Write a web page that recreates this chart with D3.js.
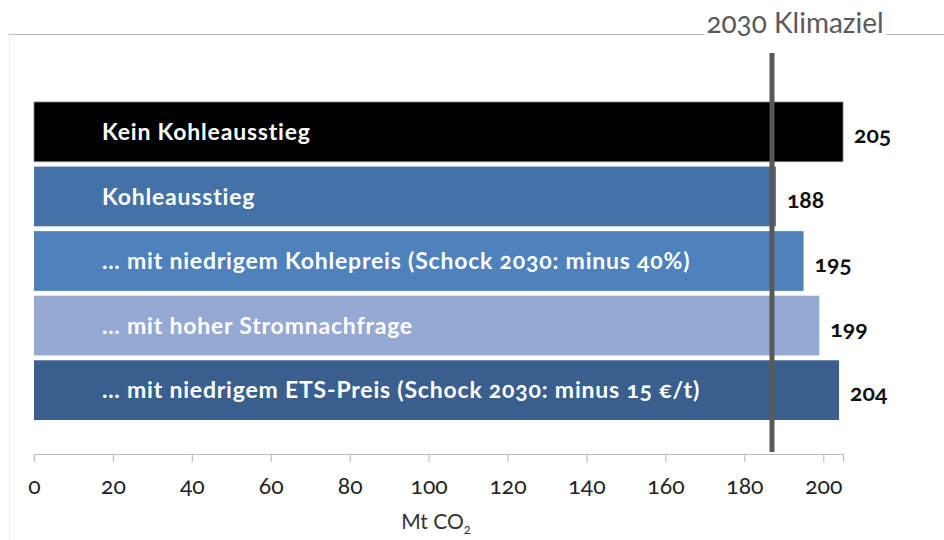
<!DOCTYPE html>
<html>
<head>
<meta charset="utf-8">
<script src="https://cdn.jsdelivr.net/npm/d3@7"></script>
<style>
  html, body { margin: 0; padding: 0; background: #fff; }
  svg { display: block; font-family: Lato, "Open Sans", sans-serif; font-variant-numeric: oldstyle-nums; }
</style>
</head>
<body>
<svg id="chart" width="944" height="540"></svg>
<script>
// ---- data ----
const categories = [
  "Kein Kohleausstieg",
  "Kohleausstieg",
  "… mit niedrigem Kohlepreis (Schock 2030: minus 40%)",
  "… mit hoher Stromnachfrage",
  "… mit niedrigem ETS-Preis (Schock 2030: minus 15 €/t)"
];
const values = [205, 188, 195, 199, 204];
const targetValue = 187;
const targetLabel = "2030 Klimaziel";
const xTicks = [0, 20, 40, 60, 80, 100, 120, 140, 160, 180, 200];
const axisTitle = "Mt CO";
const axisTitleSub = "2";

// ---- style ----
const barColors = ["#000000", "#4472a6", "#4f81bd", "#95a9d2", "#3a5f8e"];

const svg = d3.select("#chart");

const x = d3.scaleLinear().domain([0, 205]).range([34, 843]);
const y = d3.scaleBand().domain(categories).range([102, 420]).paddingInner(0.075).paddingOuter(0);

// frame lines
svg.append("line").attr("x1", 9).attr("x2", 944).attr("y1", 34.5).attr("y2", 34.5)
  .attr("stroke", "#bdbdbd").attr("stroke-width", 1.2);
svg.append("line").attr("x1", 9.5).attr("x2", 9.5).attr("y1", 35).attr("y2", 540)
  .attr("stroke", "#f0f0f0").attr("stroke-width", 1);

// bars
const rows = categories.map((c, i) => ({ c, v: values[i], i }));
svg.append("g").selectAll("rect").data(rows).join("rect")
  .attr("x", x(0))
  .attr("y", d => y(d.c))
  .attr("width", d => x(d.v) - x(0))
  .attr("height", y.bandwidth())
  .attr("fill", d => barColors[d.i])
  .attr("stroke", d => d.i === 0 ? "#7f7f7f" : "none")
  .attr("stroke-width", 0.8);

// category labels inside bars
svg.append("g").selectAll("text").data(rows).join("text")
  .attr("x", 102)
  .attr("y", d => y(d.c) + y.bandwidth() / 2)
  .attr("dy", "0.36em")
  .attr("fill", "#fff")
  .attr("font-weight", "bold")
  .attr("font-size", 23)
  .attr("letter-spacing", 0.8)
  .text(d => d.c);

// value labels
svg.append("g").selectAll("text").data(rows).join("text")
  .attr("x", d => x(d.v) + 11)
  .attr("y", d => y(d.c) + y.bandwidth() / 2 + 3)
  .attr("dy", "0.36em")
  .attr("fill", "#111")
  .attr("font-weight", "bold")
  .attr("font-size", 23)
  .text(d => d.v);

// x axis
const axis = d3.axisBottom(x).tickValues(xTicks).tickSize(8).tickPadding(16).tickFormat(d3.format("d"));
const gx = svg.append("g").attr("transform", "translate(0,454)").call(axis);
gx.select(".domain").attr("stroke", "#bdbdbd").attr("stroke-width", 1.2);
gx.selectAll(".tick line").attr("stroke", "#bdbdbd").attr("stroke-width", 1.2);
gx.selectAll(".tick text").attr("font-size", 23).attr("fill", "#222")
  .attr("font-family", "Lato, 'Open Sans', sans-serif");

// axis title
const t = svg.append("text").attr("x", 436).attr("y", 529).attr("text-anchor", "middle")
  .attr("font-size", 21).attr("fill", "#333");
t.append("tspan").text(axisTitle);
t.append("tspan").attr("font-size", 13).attr("dy", 5).text(axisTitleSub);

// target line
svg.append("line")
  .attr("x1", x(targetValue)).attr("x2", x(targetValue))
  .attr("y1", 53).attr("y2", 452)
  .attr("stroke", "#595959").attr("stroke-width", 5);

// target label with white backing
const lg = svg.append("g");
const bg = lg.append("rect").attr("fill", "#fff");
const lab = lg.append("text").attr("x", 795).attr("y", 33).attr("text-anchor", "middle")
  .attr("font-size", 28).attr("fill", "#595959").text(targetLabel);
const bb = lab.node().getBBox();
bg.attr("x", bb.x - 2).attr("y", bb.y).attr("width", bb.width + 4).attr("height", bb.height);
</script>
</body>
</html>
